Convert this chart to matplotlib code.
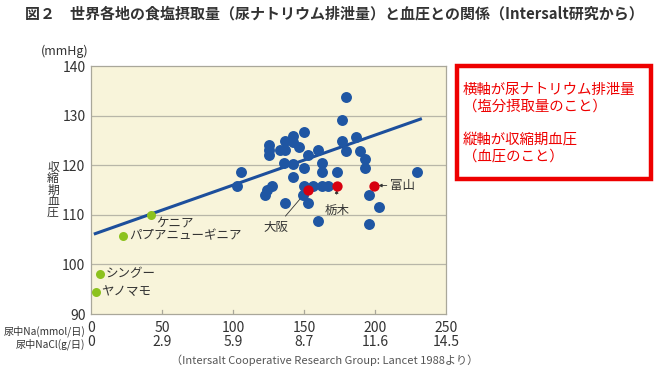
import numpy as np
import matplotlib
matplotlib.use('Agg')
import matplotlib.pyplot as plt

plt.rcParams['font.family'] = ['Noto Sans CJK JP', 'DejaVu Sans']

# --- data ---
# Intersalt centres (blue)
blue_na = [179.6, 176.5, 150.0, 142.5, 136.6, 142.5, 146.5, 125.6, 125.6, 133.0,
           136.6, 125.6, 153.0, 159.6, 176.5, 186.4, 179.6, 189.4, 193.0, 193.0,
           135.9, 142.5, 162.9, 150.0, 162.9, 173.0, 229.8, 105.6, 102.6, 142.5,
           150.0, 156.6, 162.9, 166.6, 149.5, 127.2, 123.7, 122.5, 136.6, 153.0,
           159.6, 196.0, 202.8, 196.0]
blue_bp = [133.7, 129.1, 126.6, 125.9, 124.9, 124.7, 123.7, 124.1, 123.1, 123.1,
           123.1, 122.1, 122.1, 123.1, 124.9, 125.7, 122.9, 122.9, 121.2, 119.4,
           120.5, 120.2, 120.5, 119.4, 118.7, 118.7, 118.7, 118.7, 115.8, 117.7,
           115.9, 115.9, 115.9, 115.9, 114.0, 115.8, 115.0, 114.0, 112.3, 112.3,
           108.8, 114.0, 111.5, 108.1]

# Japanese centres (red)
red_names = ['大阪', '栃木', '富山']
red_na = [152.6, 173.0, 199.5]
red_bp = [115.0, 115.9, 115.9]

# low-salt populations (green)
green_names = ['ケニア', 'パプアニューギニア', 'シングー', 'ヤノマモ']
green_na = [42.3, 22.7, 6.3, 3.3]
green_bp = [110.0, 105.7, 98.1, 94.5]

# regression line end points
reg_na = [2.0, 233.0]
reg_bp = [106.1, 129.4]

na_ticks = [0, 50, 100, 150, 200, 250]
nacl_labels = ['0', '2.9', '5.9', '8.7', '11.6', '14.5']
bp_ticks = [90, 100, 110, 120, 130, 140]

title = '図２　世界各地の食塩摂取量（尿ナトリウム排泄量）と血圧との関係（Intersalt研究から）'
source = '（Intersalt Cooperative Research Group: Lancet 1988より）'
note_lines = ['横軸が尿ナトリウム排泄量', '（塩分摂取量のこと）', '', '縦軸が収縮期血圧', '（血圧のこと）']

blue = '#1f56a3'
red = '#d7000f'
green = '#8cc21e'
txt = '#333333'

fig = plt.figure(figsize=(6.64, 3.71), dpi=100)
fig.patch.set_facecolor('white')
ax = fig.add_axes([91/664, 1 - 314/371, 355/664, 248/371])
ax.set_facecolor('#f8f4da')

ax.set_xlim(0, 250)
ax.set_ylim(90, 140)
for v in bp_ticks[1:-1]:
    ax.axhline(v, color='#b8b6a8', lw=0.9, zorder=1)
for v in na_ticks[1:-1]:
    ax.plot([v, v], [90, 90.8], color='#a9a79a', lw=0.9, zorder=1)

for s in ax.spines.values():
    s.set_color('#a9a79a')
    s.set_linewidth(0.9)

ax.plot(reg_na, reg_bp, color='#1d4f9c', lw=2.2, zorder=3, solid_capstyle='butt')
ax.scatter(blue_na, blue_bp, s=62, color=blue, zorder=4, linewidths=0)
ax.scatter(red_na, red_bp, s=55, color=red, zorder=5, linewidths=0)
ax.scatter(green_na, green_bp, s=42, color=green, zorder=5, linewidths=0, clip_on=False)

fs = 9
# green labels
ax.annotate(green_names[0], (green_na[0], green_bp[0]), xytext=(4, -6),
            textcoords='offset points', fontsize=fs, color=txt, va='center')
for name, x, y in zip(green_names[1:], green_na[1:], green_bp[1:]):
    ax.annotate(name, (x, y), xytext=(4, 0), textcoords='offset points',
                fontsize=fs, color=txt, va='center')

# red labels
ax.annotate(red_names[0], (red_na[0], red_bp[0]), xytext=(-23, -27),
            textcoords='offset points', fontsize=fs, color=txt, ha='center', va='center',
            arrowprops=dict(arrowstyle='-|>', color=txt, lw=0.6, mutation_scale=5,
                            shrinkA=2, shrinkB=3))
ax.annotate(red_names[1], (red_na[1], red_bp[1]), xytext=(0, -18),
            textcoords='offset points', fontsize=fs, color=txt, ha='center', va='center',
            arrowprops=dict(arrowstyle='-|>', color=txt, lw=0.6, mutation_scale=5,
                            shrinkA=5, shrinkB=3))
ax.annotate(red_names[2], (red_na[2], red_bp[2]), xytext=(11, 0),
            textcoords='offset points', fontsize=fs, color=txt, ha='left', va='center',
            arrowprops=dict(arrowstyle='-|>', color=txt, lw=0.6, mutation_scale=5,
                            shrinkA=0, shrinkB=3))

# y axis
ax.set_yticks(bp_ticks)
ax.set_yticklabels([str(v) for v in bp_ticks], fontsize=10, color=txt)
ax.tick_params(axis='y', length=0, pad=4)
ax.set_xticks([])
fig.text(65/664, 1 - 51/371, '(mmHg)', fontsize=9, color=txt, ha='center', va='center')
fig.text(53/664, 1 - 190/371, '収\n縮\n期\n血\n圧', fontsize=8.5, color=txt,
         ha='center', va='center', linespacing=0.82)

# two-row x labels
for v, lab in zip(na_ticks, nacl_labels):
    ax.text(v, -0.03, str(v), transform=ax.get_xaxis_transform(), fontsize=10,
            color=txt, ha='center', va='top')
    ax.text(v, -0.085, lab, transform=ax.get_xaxis_transform(), fontsize=10,
            color=txt, ha='center', va='top')
fig.text(85/664, 1 - 331/371, '尿中Na(mmol/日)', fontsize=7.3, color=txt, ha='right', va='center')
fig.text(85/664, 1 - 344/371, '尿中NaCl(g/日)', fontsize=7.3, color=txt, ha='right', va='center')
fig.text(325/664, 1 - 360/371, source, fontsize=8, color='#555555', ha='center', va='center')

# title
fig.text(25/664, 1 - 14/371, title, fontsize=10.8, fontweight='bold', color=txt,
         ha='left', va='center')

# red note box
box = plt.Rectangle((457/664, 1 - 179/371), 194/664, 113/371, transform=fig.transFigure,
                    fill=False, edgecolor='#ee0000', lw=3.2)
fig.add_artist(box)
ys = [90, 107, 124, 140, 157]
for y, line in zip(ys, note_lines):
    if line:
        fig.text(463/664, 1 - y/371, line, fontsize=10.4, color='#ee0000',
                 ha='left', va='center')

fig.savefig('out.png', dpi=100)
